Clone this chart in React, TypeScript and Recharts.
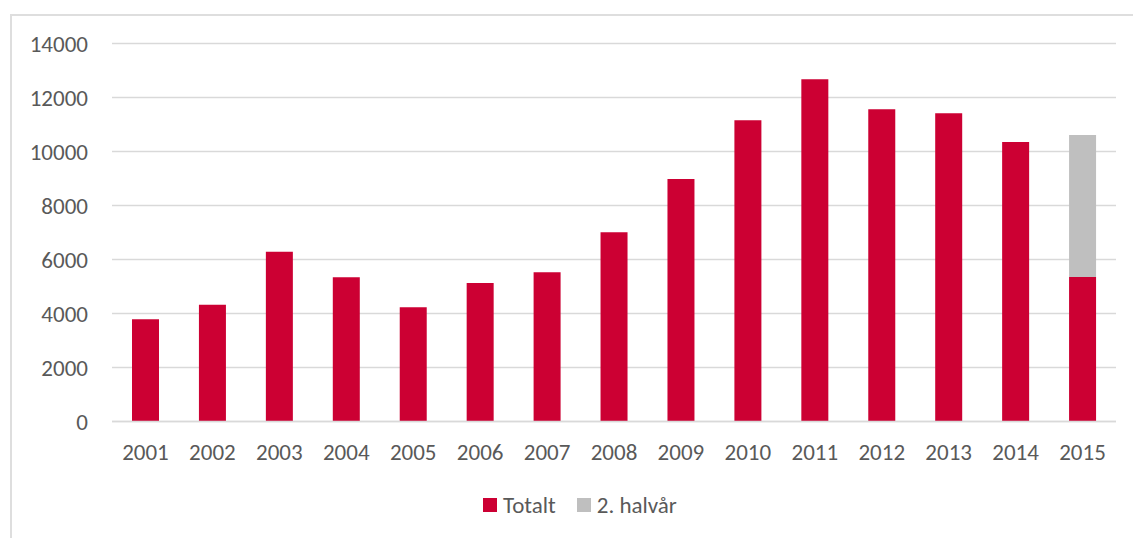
import { BarChart, Bar, XAxis, YAxis, CartesianGrid } from "recharts";

const YEARS = ["2001", "2002", "2003", "2004", "2005", "2006", "2007", "2008", "2009", "2010", "2011", "2012", "2013", "2014", "2015"];
const TOTALT = [3785, 4326, 6289, 5340, 4230, 5130, 5526, 7007, 8981, 11156, 12674, 11563, 11415, 10352, 5352];
const HALVAR = [null, null, null, null, null, null, null, null, null, null, null, null, null, null, 5259];
const Y_TICKS = [0, 2000, 4000, 6000, 8000, 10000, 12000, 14000];

const RED = "#CC0033";
const GREY = "#BFBFBF";
const TEXT = "#595959";
const FONT = "Carlito, Calibri, 'Open Sans', sans-serif";
const FS = 23;

const data = YEARS.map((year, i) => ({ year, totalt: TOTALT[i], halvar: HALVAR[i] }));

const LEGEND = [
  { label: "Totalt", color: RED },
  { label: "2. halvår", color: GREY },
];

function ChartLegend() {
  return (
    <div style={{ display: "flex", alignItems: "center", fontFamily: FONT, fontSize: FS, color: TEXT, lineHeight: "28px" }}>
      {LEGEND.map((it) => (
        <div key={it.label} style={{ display: "flex", alignItems: "center", marginRight: 21 }}>
          <span style={{ display: "inline-block", width: 14, height: 14, background: it.color, marginRight: 6 }} />
          <span>{it.label}</span>
        </div>
      ))}
    </div>
  );
}

export default function App() {
  return (
    <div style={{ position: "absolute", left: 0, top: 0, width: 1133, height: 538, overflow: "hidden", background: "#fff" }}>
      <div style={{ position: "absolute", left: 10, top: 14, width: 1140, height: 540, border: "2px solid #DEDEDE" }} />
      <div style={{ position: "absolute", left: 0, top: 0 }}>
        {/* x axis takes 30px of the bottom margin itself */}
        <BarChart width={1133} height={538} data={data} margin={{ top: 43.5, right: 17, bottom: 86.5, left: 0 }}>
          <CartesianGrid vertical={false} stroke="#D9D9D9" strokeWidth={1.5} />
          <XAxis
            dataKey="year"
            height={30}
            tickLine={false}
            tickSize={0}
            tickMargin={22}
            axisLine={{ stroke: "#D9D9D9", strokeWidth: 1.5 }}
            tick={{ fill: TEXT, fontSize: FS, fontFamily: FONT }}
            interval={0}
          />
          <YAxis
            width={112}
            domain={[0, 14000]}
            ticks={Y_TICKS}
            tickLine={false}
            tickSize={0}
            tickMargin={24}
            axisLine={false}
            tick={{ fill: TEXT, fontSize: FS, fontFamily: FONT }}
          />
          <Bar dataKey="totalt" name="Totalt" stackId="a" fill={RED} barSize={27} isAnimationActive={false} />
          <Bar dataKey="halvar" name="2. halvår" stackId="a" fill={GREY} barSize={27} isAnimationActive={false} />
        </BarChart>
      </div>
      <div style={{ position: "absolute", left: 483, top: 491 }}>
        <ChartLegend />
      </div>
    </div>
  );
}
